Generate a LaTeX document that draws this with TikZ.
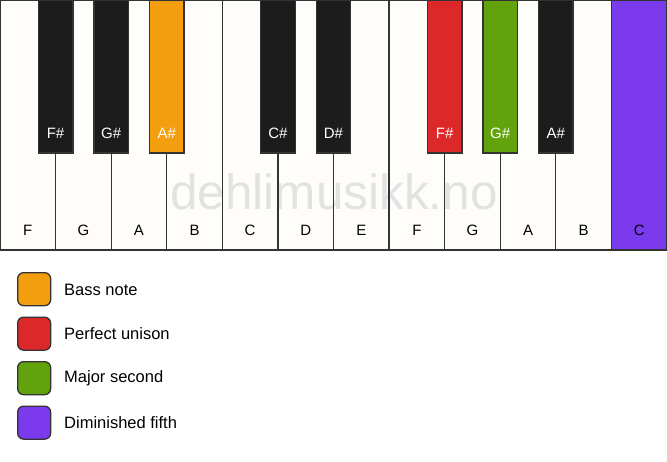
\documentclass[tikz,border=0pt]{standalone}
\usepackage{fontspec}
\setmainfont{Liberation Sans}
\definecolor{keywhite}{HTML}{FFFDF9}
\definecolor{keyblack}{HTML}{1C1C1C}
\definecolor{keyline}{HTML}{333333}
\definecolor{cbass}{HTML}{F39E0E}
\definecolor{cuni}{HTML}{DC2828}
\definecolor{csec}{HTML}{62A30D}
\definecolor{cfifth}{HTML}{7B3AEC}
\definecolor{wmark}{HTML}{E2E2E2}
\begin{document}
\begin{tikzpicture}[x=1pt,y=-1pt,
  whitekey/.style={draw=keyline,line width=1.3pt,fill=keywhite,minimum width=55.58pt,minimum height=250pt,inner sep=0pt,anchor=north west,outer sep=0pt},
  blackkey/.style={draw=keyline,line width=1.3pt,fill=keyblack,minimum width=34.6pt,minimum height=153pt,inner sep=0pt,anchor=north,outer sep=0pt},
  wlabel/.style={font=\fontsize{15}{17}\selectfont,text=black},
  blabel/.style={font=\fontsize{15}{17}\selectfont,text=white},
  legbox/.style={draw=keyline,line width=1.3pt,rounded corners=6pt,minimum width=33pt,minimum height=33pt,inner sep=0pt,anchor=north west},
  legtext/.style={font=\fontsize{16.5}{19}\selectfont,anchor=west,inner sep=0pt}]
\useasboundingbox (0,0) rectangle (667,461);
\fill[white] (0,0) rectangle (667,461);
% white keys
\foreach \i/\c in {0/keywhite,1/keywhite,2/keywhite,3/keywhite,4/keywhite,5/keywhite,6/keywhite,7/keywhite,8/keywhite,9/keywhite,10/keywhite,11/cfifth}{
  \node[whitekey,fill=\c,draw=none] (w\i) at ({\i*55.58},0) {};
}
\node[font=\fontsize{49.5}{54}\selectfont,text=wmark] (wm) at (334,192) {dehlimusikk.no};
\foreach \i in {0,...,11}{
  \draw[keyline,line width=1.3pt] (w\i.north west) rectangle (w\i.south east);
}
\foreach \i/\n in {0/F,1/G,2/A,3/B,4/C,5/D,6/E,7/F,8/G,9/A,10/B,11/C}{
  \node[wlabel] (wl\i) at ({\i*55.58+27.79},230.5) {\n};
}
% black keys
\foreach \b/\n/\c in {1/F\#/keyblack,2/G\#/keyblack,3/A\#/cbass,5/C\#/keyblack,6/D\#/keyblack,8/F\#/cuni,9/G\#/csec,10/A\#/keyblack}{
  \node[blackkey,fill=\c] (b\b) at ({\b*55.58},0) {};
  \node[blabel] (bl\b) at ({\b*55.58},133) {\n};
}
% legend
\node[legbox,fill=cbass] (l1) at (17,272) {};
\node[legbox,fill=cuni] (l2) at (17,316.5) {};
\node[legbox,fill=csec] (l3) at (17,361) {};
\node[legbox,fill=cfifth] (l4) at (17,405.5) {};
\node[legtext] (t1) at (64,289.5) {Bass note};
\node[legtext] (t2) at (64,334) {Perfect unison};
\node[legtext] (t3) at (64,378.5) {Major second};
\node[legtext] (t4) at (64,423) {Diminished fifth};
\end{tikzpicture}
\end{document}
